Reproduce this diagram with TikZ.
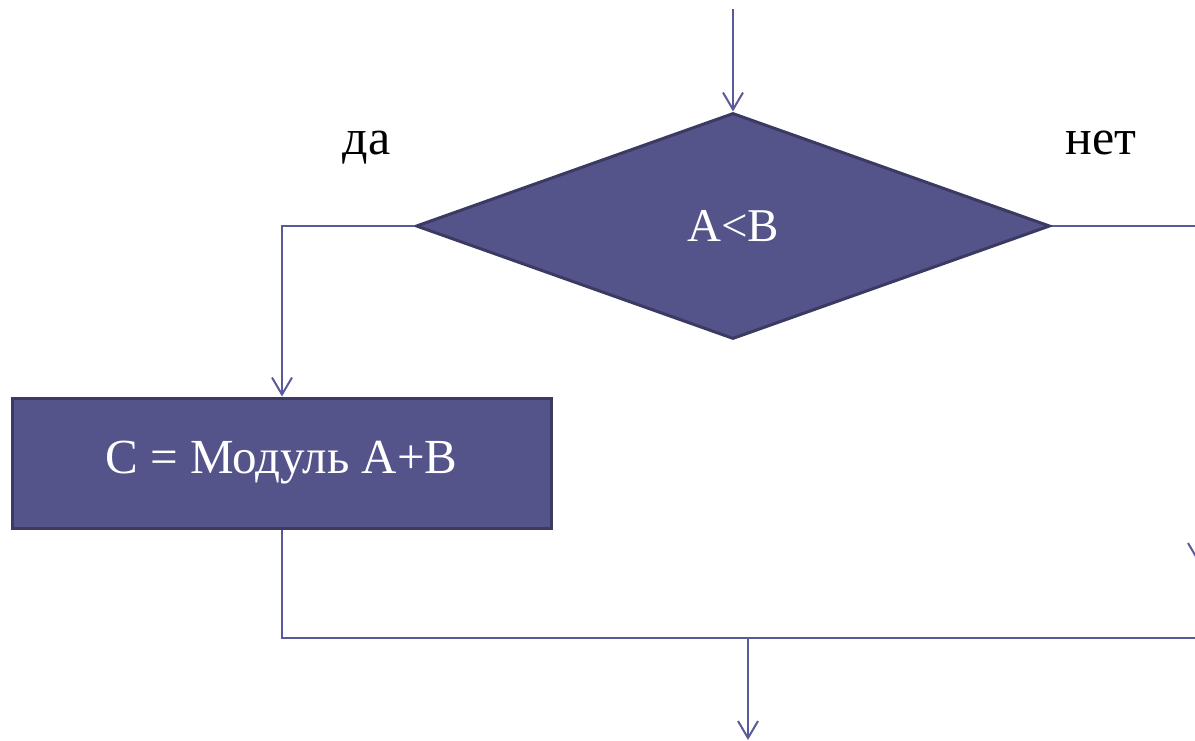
\documentclass[tikz,border=0pt]{standalone}
\usepackage{fontspec}
\setmainfont{Liberation Serif}
\usetikzlibrary{shapes.geometric,arrows.meta}
\definecolor{blockfill}{HTML}{55548A}
\definecolor{blockedge}{HTML}{3B3A63}
\definecolor{flowline}{HTML}{5A5A98}
\tikzset{
  block/.style={draw=blockedge, fill=blockfill, line width=3pt, text=white, inner sep=0pt},
  decision/.style={block, diamond, aspect=2.8, minimum width=634pt, minimum height=226pt,
    font=\fontsize{47}{52}\selectfont},
  process/.style={block, rectangle, minimum width=539pt, minimum height=130pt,
    font=\fontsize{49}{54}\selectfont},
  flow/.style={draw=flowline, line width=2pt},
  flowarrow/.style={flow, -{Straight Barb[length=17pt,width=20pt,line width=2pt]}},
  branchlabel/.style={font=\fontsize{50}{54}\selectfont, inner sep=0pt, anchor=base}
}
\begin{document}
\begin{tikzpicture}[x=1pt,y=-1pt]
  \useasboundingbox (0,0) rectangle (1195,741);
  \clip (0,0) rectangle (1195,741);

  % decision and the "yes" action
  \node[decision] (cond) at (733,226) {A<B};
  \node[process] (act) at (281.5,463) {C = Модуль A+B};

  % branch labels
  \node[branchlabel] (yes) at (366.5,155) {да};
  \node[branchlabel] (no) at (1101,155) {нет};

  % connection points
  \coordinate (in) at (733,9);
  \coordinate (yesturn) at (282,226);
  \coordinate (noturn) at (1198,226);
  \coordinate (noend) at (1198,562);
  \coordinate (joinleft) at (282,638);
  \coordinate (joinright) at (1210,638);
  \coordinate (join) at (748,638);
  \coordinate (out) at (748,740);

  % connectors
  \draw[flowarrow] (in) -- (cond.north);
  \draw[flowarrow] (cond.west) -- (yesturn) -- (act.north -| yesturn);
  \draw[flowarrow] (cond.east) -- (noturn) -- (noend);
  \draw[flow] (act.south -| joinleft) -- (joinleft) -- (joinright);
  \draw[flowarrow] (join) -- (out);
\end{tikzpicture}
\end{document}
